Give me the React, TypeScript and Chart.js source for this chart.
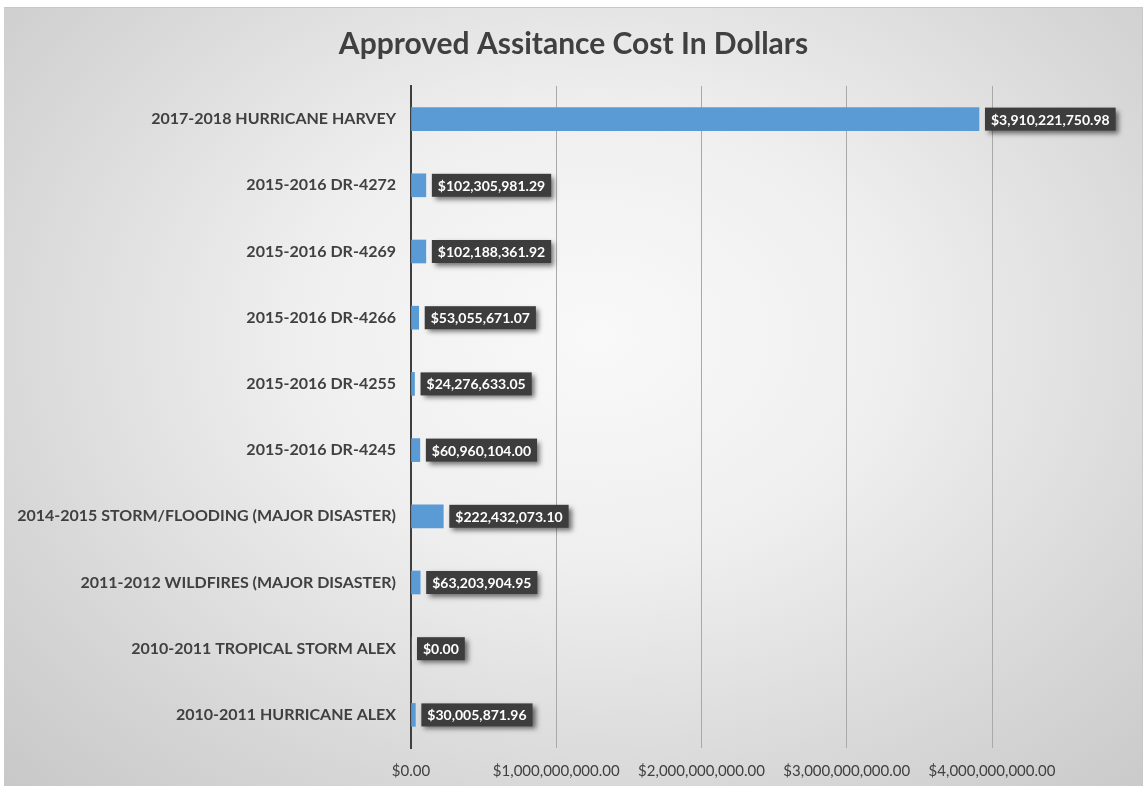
import React, { useEffect, useRef } from "react";
import { Chart, registerables } from "chart.js";

Chart.register(...registerables);

const categories = [
  "2017-2018 HURRICANE HARVEY",
  "2015-2016 DR-4272",
  "2015-2016 DR-4269",
  "2015-2016 DR-4266",
  "2015-2016 DR-4255",
  "2015-2016 DR-4245",
  "2014-2015 STORM/FLOODING (MAJOR DISASTER)",
  "2011-2012 WILDFIRES (MAJOR DISASTER)",
  "2010-2011 TROPICAL STORM ALEX",
  "2010-2011 HURRICANE ALEX",
];

const approvedCost = [
  3910221750.98,
  102305981.29,
  102188361.92,
  53055671.07,
  24276633.05,
  60960104.0,
  222432073.1,
  63203904.95,
  0,
  30005871.96,
];

const xTicks = [0, 1000000000, 2000000000, 3000000000, 4000000000];

const titleText = "Approved Assitance Cost In Dollars";

const FONT = "Lato, 'Open Sans', sans-serif";
const W = 1139;
const H = 779;

const fmt = (v: number) =>
  "$" + v.toLocaleString("en-US", { minimumFractionDigits: 2, maximumFractionDigits: 2 });

const labelPlugin = {
  id: "customLabels",
  afterDatasetsDraw(chart: any) {
    const ctx = chart.ctx;
    const meta = chart.getDatasetMeta(0);
    ctx.save();
    ctx.font = `bold 14px ${FONT}`;
    meta.data.forEach((bar: any, i: number) => {
      const text = fmt(approvedCost[i]);
      const tw = ctx.measureText(text).width;
      const bw = tw + 12;
      const bh = 23;
      const x = bar.x + 6;
      const y = bar.y - bh / 2;
      ctx.save();
      ctx.shadowColor = "rgba(0,0,0,0.55)";
      ctx.shadowBlur = 5;
      ctx.shadowOffsetX = 3;
      ctx.shadowOffsetY = 3;
      ctx.fillStyle = "#3d3d3d";
      ctx.fillRect(x, y, bw, bh);
      ctx.restore();
      ctx.fillStyle = "#ffffff";
      ctx.textAlign = "left";
      ctx.textBaseline = "middle";
      ctx.fillText(text, x + 6, bar.y + 1);
    });
    ctx.restore();
  },
  afterDraw(chart: any) {
    const ctx = chart.ctx;
    ctx.save();
    ctx.font = `bold 30px ${FONT}`;
    ctx.fillStyle = "#404040";
    ctx.textAlign = "center";
    ctx.textBaseline = "middle";
    ctx.fillText(titleText, W / 2, 36);
    ctx.restore();
  },
};

export default function App() {
  const ref = useRef<HTMLCanvasElement | null>(null);
  useEffect(() => {
    if (!ref.current) return;
    const chart = new Chart(ref.current, {
      type: "bar",
      data: {
        labels: categories,
        datasets: [
          {
            data: approvedCost,
            backgroundColor: "#5B9BD5",
            barThickness: 23,
          },
        ],
      },
      options: {
        indexAxis: "y",
        animation: false,
        responsive: false,
        layout: { padding: { left: 0, right: 151, top: 78, bottom: 0 } },
        plugins: {
          legend: { display: false },
          tooltip: { enabled: false },
          title: { display: false },
        },
        scales: {
          x: {
            min: 0,
            max: 4000000000,
            afterBuildTicks: (scale: any) => {
              scale.ticks = xTicks.map((v) => ({ value: v }));
            },
            afterFit: (scale: any) => {
              scale.height = 39;
            },
            grid: {
              drawTicks: false,
              color: (c: any) => (c.tick && c.tick.value === 0 ? "rgba(0,0,0,0)" : "#a9a9a9"),
              lineWidth: 1,
            },
            border: { display: false },
            ticks: {
              padding: 14,
              color: "#404040",
              font: { family: FONT, size: 15 },
              callback: (v: any) => fmt(Number(v)),
            },
          },
          y: {
            afterFit: (scale: any) => {
              scale.width = 407;
            },
            grid: { display: true, drawTicks: false, color: "rgba(0,0,0,0)" },
            border: { display: true, color: "#3f3f3f", width: 2 },
            ticks: {
              padding: 15,
              color: "#404040",
              font: { family: FONT, size: 16, weight: "bold" },
            },
          },
        },
      },
      plugins: [labelPlugin],
    });
    return () => chart.destroy();
  }, []);

  return (
    <div
      style={{
        position: "fixed",
        left: 4,
        top: 7,
        width: W,
        height: H,
        boxSizing: "border-box",
        borderTop: "1px solid #c8c8c8",
        borderRight: "1px solid #c8c8c8",
        background:
          "radial-gradient(ellipse at 52% 42%, #f9f9f9 0%, #efefef 35%, #d6d6d6 75%, #c8c8c8 100%)",
      }}
    >
      <canvas ref={ref} width={W} height={H} style={{ position: "absolute", left: 0, top: 0 }} />
    </div>
  );
}
